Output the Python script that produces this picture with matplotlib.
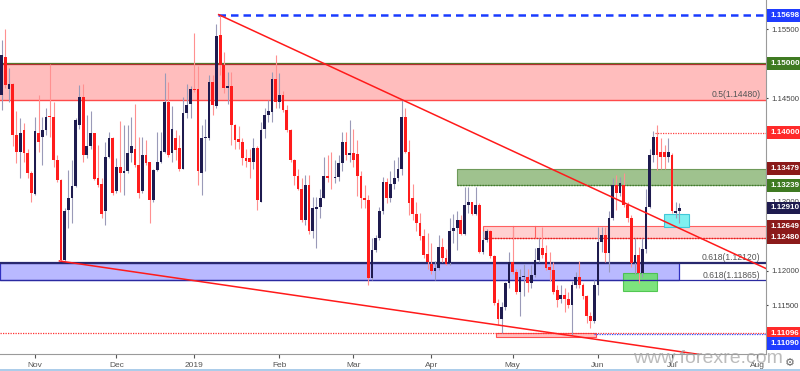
import numpy as np
import pandas as pd
import matplotlib
matplotlib.use("Agg")
import matplotlib.pyplot as plt
from matplotlib.patches import Rectangle
from matplotlib.lines import Line2D

plt.rcParams["font.family"] = ["Liberation Sans", "DejaVu Sans"]

# daily EUR/USD bars, 19 Oct 2018 .. 3 Jul 2019
dates = pd.bdate_range("2018-10-19", "2019-07-03")

opens = [
    1.1455, 1.1510, 1.1463, 1.1470, 1.1396, 1.1372, 1.1404, 1.1371, 1.1342, 1.1311,
    1.1399, 1.1394, 1.1404, 1.1424, 1.1423, 1.1361, 1.1332, 1.1216, 1.1288, 1.1306,
    1.1323, 1.1411, 1.1452, 1.1368, 1.1380, 1.1399, 1.1335, 1.1326, 1.1286, 1.1365,
    1.1392, 1.1315, 1.1351, 1.1341, 1.1344, 1.1370, 1.1376, 1.1353, 1.1315, 1.1367,
    1.1357, 1.1303, 1.1346, 1.1358, 1.1372, 1.1444, 1.1370, 1.1392, 1.1378, 1.1348,
    1.1428, 1.1442, 1.1463, 1.1463, 1.1341, 1.1392, 1.1392, 1.1474, 1.1438, 1.1542,
    1.1498, 1.1465, 1.1467, 1.1411, 1.1391, 1.1387, 1.1363, 1.1363, 1.1358, 1.1378,
    1.1300, 1.1405, 1.1425, 1.1430, 1.1478, 1.1445, 1.1454, 1.1433, 1.1404, 1.1360,
    1.1338, 1.1318, 1.1274, 1.1324, 1.1257, 1.1290, 1.1293, 1.1306, 1.1338, 1.1335,
    1.1334, 1.1336, 1.1356, 1.1387, 1.1368, 1.1370, 1.1369, 1.1338, 1.1305, 1.1302,
    1.1189, 1.1230, 1.1247, 1.1286, 1.1329, 1.1305, 1.1326, 1.1334, 1.1348, 1.1423,
    1.1372, 1.1305, 1.1283, 1.1269, 1.1250, 1.1225, 1.1210, 1.1200, 1.1204, 1.1235,
    1.1218, 1.1211, 1.1257, 1.1262, 1.1274, 1.1254, 1.1296, 1.1299, 1.1283, 1.1295,
    1.1227, 1.1245, 1.1257, 1.1221, 1.1153, 1.1131, 1.1148, 1.1182, 1.1213, 1.1199,
    1.1170, 1.1191, 1.1191, 1.1182, 1.1194, 1.1216, 1.1233, 1.1226, 1.1206, 1.1201,
    1.1172, 1.1160, 1.1165, 1.1160, 1.1151, 1.1180, 1.1191, 1.1180, 1.1163, 1.1134,
    1.1127, 1.1180, 1.1242, 1.1252, 1.1226, 1.1276, 1.1324, 1.1312, 1.1324, 1.1295,
    1.1276, 1.1211, 1.1223, 1.1197, 1.1231, 1.1293, 1.1368, 1.1394, 1.1372, 1.1372,
    1.1365, 1.1368, 1.1284, 1.1286,
]
highs = [
    1.1534, 1.1550, 1.1493, 1.1472, 1.1431, 1.1421, 1.1414, 1.1377, 1.1344, 1.1423,
    1.1455, 1.1423, 1.1435, 1.1499, 1.1445, 1.1368, 1.1333, 1.1291, 1.1346, 1.1360,
    1.1421, 1.1469, 1.1471, 1.1426, 1.1431, 1.1400, 1.1382, 1.1334, 1.1387, 1.1401,
    1.1394, 1.1363, 1.1417, 1.1411, 1.1411, 1.1423, 1.1442, 1.1394, 1.1394, 1.1389,
    1.1358, 1.1348, 1.1401, 1.1401, 1.1486, 1.1474, 1.1438, 1.1404, 1.1397, 1.1452,
    1.1471, 1.1467, 1.1544, 1.1496, 1.1411, 1.1420, 1.1484, 1.1484, 1.1557, 1.1570,
    1.1517, 1.1488, 1.1488, 1.1413, 1.1409, 1.1393, 1.1377, 1.1377, 1.1392, 1.1380,
    1.1416, 1.1435, 1.1447, 1.1488, 1.1512, 1.1486, 1.1460, 1.1440, 1.1406, 1.1362,
    1.1348, 1.1334, 1.1339, 1.1339, 1.1307, 1.1307, 1.1319, 1.1365, 1.1368, 1.1372,
    1.1360, 1.1368, 1.1401, 1.1401, 1.1418, 1.1406, 1.1390, 1.1344, 1.1324, 1.1310,
    1.1247, 1.1252, 1.1293, 1.1336, 1.1334, 1.1345, 1.1360, 1.1365, 1.1448, 1.1435,
    1.1390, 1.1325, 1.1300, 1.1284, 1.1260, 1.1255, 1.1240, 1.1214, 1.1252, 1.1247,
    1.1232, 1.1276, 1.1283, 1.1286, 1.1281, 1.1322, 1.1322, 1.1300, 1.1322, 1.1298,
    1.1257, 1.1261, 1.1259, 1.1223, 1.1160, 1.1155, 1.1184, 1.1228, 1.1264, 1.1203,
    1.1203, 1.1210, 1.1203, 1.1208, 1.1233, 1.1247, 1.1264, 1.1237, 1.1228, 1.1213,
    1.1179, 1.1179, 1.1175, 1.1170, 1.1185, 1.1199, 1.1214, 1.1182, 1.1165, 1.1141,
    1.1187, 1.1264, 1.1264, 1.1264, 1.1286, 1.1334, 1.1339, 1.1336, 1.1341, 1.1300,
    1.1281, 1.1247, 1.1235, 1.1247, 1.1319, 1.1377, 1.1402, 1.1411, 1.1392, 1.1382,
    1.1392, 1.1370, 1.1300, 1.1298,
]
lows = [
    1.1433, 1.1464, 1.1445, 1.1380, 1.1356, 1.1335, 1.1358, 1.1334, 1.1300, 1.1310,
    1.1372, 1.1353, 1.1397, 1.1394, 1.1351, 1.1329, 1.1214, 1.1214, 1.1262, 1.1269,
    1.1322, 1.1406, 1.1358, 1.1363, 1.1377, 1.1332, 1.1322, 1.1276, 1.1266, 1.1363,
    1.1310, 1.1312, 1.1314, 1.1310, 1.1341, 1.1358, 1.1351, 1.1305, 1.1312, 1.1353,
    1.1269, 1.1299, 1.1344, 1.1356, 1.1370, 1.1365, 1.1358, 1.1360, 1.1344, 1.1347,
    1.1421, 1.1421, 1.1459, 1.1324, 1.1310, 1.1345, 1.1390, 1.1425, 1.1436, 1.1484,
    1.1457, 1.1442, 1.1382, 1.1377, 1.1377, 1.1353, 1.1351, 1.1335, 1.1348, 1.1288,
    1.1299, 1.1392, 1.1416, 1.1416, 1.1435, 1.1435, 1.1430, 1.1401, 1.1358, 1.1324,
    1.1317, 1.1271, 1.1266, 1.1254, 1.1247, 1.1233, 1.1276, 1.1305, 1.1329, 1.1318,
    1.1327, 1.1330, 1.1344, 1.1360, 1.1358, 1.1351, 1.1308, 1.1291, 1.1291, 1.1179,
    1.1187, 1.1228, 1.1245, 1.1283, 1.1298, 1.1300, 1.1318, 1.1330, 1.1339, 1.1370,
    1.1281, 1.1273, 1.1258, 1.1244, 1.1218, 1.1203, 1.1196, 1.1187, 1.1201, 1.1213,
    1.1209, 1.1209, 1.1240, 1.1230, 1.1252, 1.1252, 1.1284, 1.1281, 1.1281, 1.1226,
    1.1225, 1.1242, 1.1218, 1.1151, 1.1122, 1.1110, 1.1144, 1.1175, 1.1196, 1.1167,
    1.1134, 1.1163, 1.1170, 1.1175, 1.1191, 1.1213, 1.1218, 1.1201, 1.1185, 1.1167,
    1.1148, 1.1153, 1.1141, 1.1146, 1.1107, 1.1175, 1.1175, 1.1160, 1.1124, 1.1117,
    1.1124, 1.1165, 1.1228, 1.1213, 1.1199, 1.1274, 1.1288, 1.1309, 1.1293, 1.1271,
    1.1206, 1.1196, 1.1182, 1.1191, 1.1226, 1.1291, 1.1358, 1.1346, 1.1348, 1.1348,
    1.1358, 1.1284, 1.1276, 1.1269,
]
closes = [
    1.1512, 1.1469, 1.1470, 1.1396, 1.1372, 1.1399, 1.1370, 1.1341, 1.1312, 1.1402,
    1.1386, 1.1404, 1.1423, 1.1423, 1.1360, 1.1332, 1.1216, 1.1286, 1.1306, 1.1323,
    1.1418, 1.1452, 1.1368, 1.1380, 1.1399, 1.1333, 1.1324, 1.1283, 1.1365, 1.1392,
    1.1312, 1.1351, 1.1341, 1.1344, 1.1370, 1.1380, 1.1353, 1.1312, 1.1367, 1.1356,
    1.1303, 1.1346, 1.1358, 1.1374, 1.1444, 1.1368, 1.1406, 1.1375, 1.1348, 1.1428,
    1.1440, 1.1463, 1.1462, 1.1344, 1.1392, 1.1394, 1.1474, 1.1440, 1.1540, 1.1498,
    1.1465, 1.1467, 1.1411, 1.1389, 1.1387, 1.1363, 1.1359, 1.1358, 1.1378, 1.1303,
    1.1404, 1.1426, 1.1431, 1.1478, 1.1445, 1.1455, 1.1433, 1.1404, 1.1360, 1.1338,
    1.1318, 1.1274, 1.1324, 1.1257, 1.1291, 1.1293, 1.1306, 1.1338, 1.1335, 1.1334,
    1.1336, 1.1356, 1.1387, 1.1368, 1.1370, 1.1361, 1.1338, 1.1305, 1.1302, 1.1189,
    1.1230, 1.1247, 1.1286, 1.1329, 1.1305, 1.1326, 1.1334, 1.1348, 1.1423, 1.1372,
    1.1298, 1.1283, 1.1269, 1.1250, 1.1223, 1.1213, 1.1200, 1.1204, 1.1234, 1.1218,
    1.1210, 1.1257, 1.1262, 1.1274, 1.1254, 1.1296, 1.1299, 1.1283, 1.1296, 1.1228,
    1.1245, 1.1257, 1.1221, 1.1153, 1.1131, 1.1148, 1.1182, 1.1213, 1.1199, 1.1170,
    1.1191, 1.1192, 1.1182, 1.1194, 1.1216, 1.1233, 1.1223, 1.1204, 1.1201, 1.1170,
    1.1158, 1.1165, 1.1160, 1.1151, 1.1180, 1.1191, 1.1180, 1.1163, 1.1134, 1.1127,
    1.1180, 1.1242, 1.1252, 1.1226, 1.1276, 1.1324, 1.1312, 1.1327, 1.1295, 1.1276,
    1.1211, 1.1223, 1.1197, 1.1231, 1.1293, 1.1368, 1.1394, 1.1368, 1.1365, 1.1365,
    1.1372, 1.1286, 1.1286, 1.1291,
]

month_labels = ["Nov", "Dec", "2019", "Feb", "Mar", "Apr", "May", "Jun", "Jul", "Aug"]
month_starts = ["2018-11-01", "2018-12-01", "2019-01-01", "2019-02-01", "2019-03-01",
                "2019-04-01", "2019-05-01", "2019-06-01", "2019-07-01", "2019-08-01"]

# drawn levels / zones
jan_high = 1.15698
zone_top, fib50 = 1.15000, 1.14480
level_1400 = 1.14000
green_top, green_bot = 1.13479, 1.13239
last_price = 1.12910
pink_top, pink_bot = 1.12649, 1.12480
fib618_a, fib618_b = 1.12120, 1.11865
low_a, low_b = 1.11096, 1.11090
# trendline anchors (date, price)
trend_hi = [("2019-01-10", 1.15698), ("2019-03-20", 1.14480)]
trend_lo = [("2018-11-12", 1.12140), ("2019-05-23", 1.11060)]

UP, DN = "#1e1b4f", "#ff1c1c"
UP_W, DN_W = "#9a9ab8", "#ff9090"

ext = pd.bdate_range("2018-10-19", "2019-08-05")
def idx(d):
    return int(np.searchsorted(ext, pd.Timestamp(d)))

fig = plt.figure(figsize=(8, 3.71), dpi=100)
ax = fig.add_axes([0, 17 / 371, 766 / 800, 354 / 371])
x0, x1 = -0.45, 206.4
ax.set_xlim(x0, x1)
ax.set_ylim(1.10797, 1.15920)

# zones
ax.add_patch(Rectangle((x0, fib50), x1 - x0, zone_top - fib50, fc="#ffbdbd", ec="none", zorder=1))
ax.axhline(fib50, color="#ff4a4a", lw=1.0, zorder=2)
ax.axhline(zone_top + 0.00005, color="#4b7f2c", lw=0.9, zorder=2)
ax.axhline(zone_top - 0.00005, color="#b03030", lw=0.9, zorder=2)

g0 = idx("2019-04-10") - 0.1
ax.add_patch(Rectangle((g0, green_bot), x1 - g0, green_top - green_bot, fc="#9fc28e",
                       ec="#6e9a5a", lw=0.8, zorder=1))
ax.plot([g0, x1], [green_bot, green_bot], color="#3f7a2a", lw=1.0, ls=(0, (1, 1)), zorder=2)

p0 = idx("2019-04-19") - 0.1
ax.add_patch(Rectangle((p0, pink_bot), x1 - p0, pink_top - pink_bot, fc="#ffd0d0",
                       ec="#ff6060", lw=0.8, zorder=1))
ax.plot([idx("2019-04-22") + 0.5, x1], [pink_bot, pink_bot], color="#e02020", lw=1.0,
        ls=(0, (1, 1)), zorder=2)
for d in ["2019-05-01", "2019-05-09"]:
    ax.plot([idx(d), idx(d)], [pink_bot, pink_top], color="#ff6060", lw=0.8, zorder=2)

b1 = idx("2019-07-02") + 0.9
ax.add_patch(Rectangle((x0, fib618_b), b1 - x0, fib618_a - fib618_b, fc="#b9b9ff",
                       ec="#3030c0", lw=0.9, zorder=1))
ax.axhline(fib618_a, color="#28286e", lw=1.6, zorder=2)
ax.axhline(fib618_b, color="#2a2aa0", lw=0.9, zorder=2)

ax.add_patch(Rectangle((idx("2019-06-12") - 0.1, 1.1171), 9.1, 1.1197 - 1.1171,
                       fc="#66e066", ec="#40c040", lw=0.8, alpha=0.85, zorder=1))
ax.add_patch(Rectangle((idx("2019-06-26") + 0.9, 1.12635), 6.8, 1.12823 - 1.12635,
                       fc="#80f0f0", ec="#40c8d8", lw=0.8, zorder=1))
ax.add_patch(Rectangle((idx("2019-04-24") + 0.4, 1.1104), 27, low_a - 1.1104,
                       fc="#ffc0c0", ec="#ff5050", lw=0.8, zorder=1))

ax.axhline(low_a, color="#ff3030", lw=0.9, ls=(0, (1, 1)), zorder=2)
ax.plot([idx("2019-05-31"), x1], [low_b, low_b], color="#3050ff", lw=0.9,
        ls=(0, (1, 1)), zorder=2)
ax.plot([idx("2019-06-24") + 0.4, x1], [level_1400, level_1400], color="#ff4040", lw=0.9,
        ls=(0, (1, 1)), zorder=2)
ax.plot([idx("2019-01-10") - 0.5, x1], [jan_high, jan_high], color="#1a3cff", lw=1.8,
        ls=(0, (3, 2)), zorder=2)

# trendlines
for (da, pa), (db, pb) in [trend_hi, trend_lo]:
    ia, ib = idx(da), idx(db)
    k = (pb - pa) / (ib - ia)
    xs = np.array([ia - 0.4, x1])
    ax.plot(xs, pa + k * (xs - ia), color="#ff1a1a", lw=1.1, zorder=6)

# candles
xi = np.arange(len(dates))
o, h, l, c = map(np.array, (opens, highs, lows, closes))
up = c >= o
ax.vlines(xi[up], l[up], h[up], color=UP_W, lw=0.8, zorder=4)
ax.vlines(xi[~up], l[~up], h[~up], color=DN_W, lw=0.8, zorder=4)
body = np.maximum(np.abs(c - o), 0.00008)
ax.bar(xi[up], body[up], bottom=np.minimum(o, c)[up], width=0.74, color=UP, lw=0, zorder=5)
ax.bar(xi[~up], body[~up], bottom=np.minimum(o, c)[~up], width=0.74, color=DN, lw=0, zorder=5)

# axes styling
for s in ["top", "left"]:
    ax.spines[s].set_visible(False)
ax.spines["right"].set_color("#9a9a9a")
ax.spines["bottom"].set_color("#9a9a9a")
yt = [1.115, 1.12, 1.13, 1.145, 1.155]
ax.yaxis.tick_right()
ax.set_yticks(yt)
ax.set_yticklabels(["%.5f" % v for v in yt])
ax.tick_params(axis="y", labelsize=5.6, colors="#444444", length=1.5, pad=2.5)
ax.set_xticks([idx(d) for d in month_starts])
ax.set_xticklabels(month_labels)
ax.tick_params(axis="x", labelsize=6, colors="#555555", length=3, pad=3)

ytr = ax.get_yaxis_transform()
for v, t in [(fib50, "0.5(1.14480)"), (fib618_a, "0.618(1.12120)"),
             (fib618_b, "0.618(1.11865)")]:
    ax.text(0.993, v + 0.0001, t, transform=ytr, ha="right", va="bottom",
            fontsize=6.2, color="#555555")

# price labels on the right scale
tags = [(jan_high, "#1f3cff"), (zone_top, "#3f7a22"), (level_1400, "#ff2a2a"),
        (green_top, "#8b1a1a"), (green_bot, "#3f7a22"), (last_price, "#1e1b4f"),
        (pink_top, "#8b1a1a"), (pink_bot, "#8b1a1a"), (low_a, "#ff2a2a"),
        (low_b - 0.0014, "#1f3cff")]
tag_text = ["1.15698", "1.15000", "1.14000", "1.13479", "1.13239", "1.12910",
            "1.12649", "1.12480", "1.11096", "1.11090"]
for (v, col), t in zip(tags, tag_text):
    ax.text(1.0055, v, t, transform=ytr, ha="left", va="center",
            fontsize=5.8, color="white", fontweight="bold", zorder=10, clip_on=False,
            bbox=dict(boxstyle="square,pad=0.35", fc=col, ec="none"))

fig.text(0.885, 0.035, "www.forexre.com", fontsize=14, color="#a0a0a0", alpha=0.7,
         ha="center", va="center")
fig.text(0.988, 0.022, "\u2699", fontsize=8, color="#666666", ha="center", va="center",
         family="DejaVu Sans")
fig.add_artist(Line2D([0, 1], [0.004, 0.004], color="#9cc3e6", lw=1.2))

fig.savefig("out.png", dpi=100)
